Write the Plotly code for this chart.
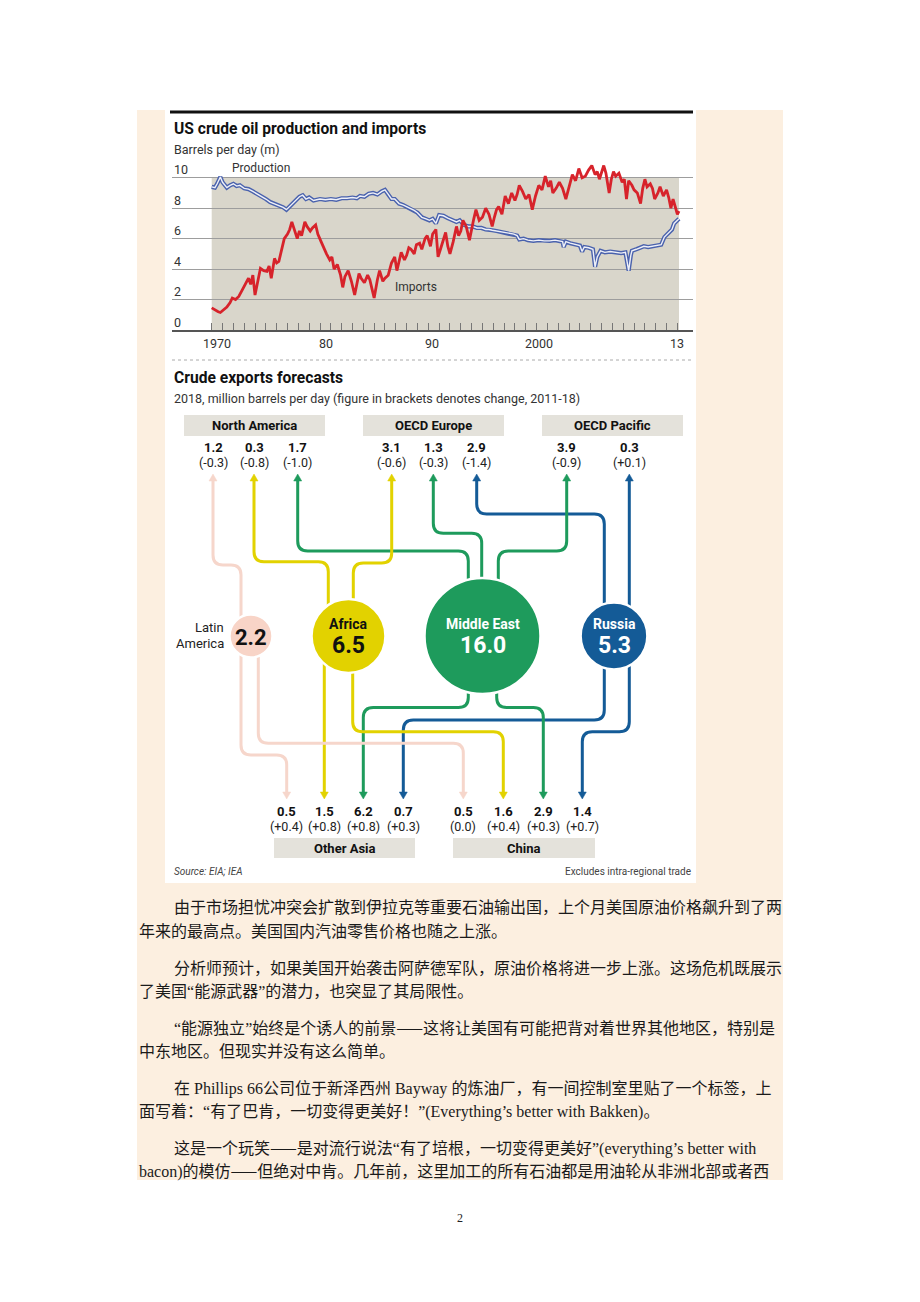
import math
import plotly.graph_objects as go

# page is rendered with an 8px body margin: figure is sized/offset so reference pixels line up
OFF = 8
W, H = 904, 1286

# ---------------- data: US crude oil production and imports (m b/d) ----------------
prod_years = [1970.0, 1970.3, 1970.5, 1970.8, 1971.0, 1971.2, 1971.4, 1971.7, 1972.0, 1972.3, 1972.6,
              1973.0, 1973.4, 1973.8, 1974.2, 1974.6, 1975.0, 1975.4, 1975.8, 1976.2, 1976.6, 1976.9,
              1977.2, 1977.5, 1977.8, 1978.1, 1978.4, 1978.7, 1979.0, 1979.4, 1979.7, 1980.0, 1980.5,
              1981.0, 1981.5, 1982.0, 1982.5, 1983.0, 1983.4, 1983.7, 1984.1, 1984.5, 1984.9, 1985.3,
              1985.7, 1986.0, 1986.3, 1986.6, 1986.9, 1987.3, 1987.7, 1988.0, 1988.3, 1988.7, 1989.0,
              1989.4, 1989.8, 1990.1, 1990.4, 1990.7, 1991.0, 1991.4, 1991.8, 1992.2, 1992.6, 1992.9,
              1993.3, 1993.7, 1994.1, 1994.5, 1994.9, 1995.3, 1995.6, 1995.9, 1996.3, 1996.7, 1997.1,
              1997.5, 1997.9, 1998.2, 1998.4, 1998.8, 1999.2, 1999.7, 2000.2, 2000.7, 2001.2, 2001.7,
              2002.1, 2002.4, 2002.5, 2002.7, 2003.1, 2003.6, 2004.0, 2004.2, 2004.4, 2004.8, 2005.2,
              2005.4, 2005.6, 2005.9, 2006.3, 2006.8, 2007.3, 2007.8, 2008.2, 2008.5, 2008.7, 2008.8,
              2009.2, 2009.6, 2009.9, 2010.3, 2010.8, 2011.2, 2011.5, 2011.8, 2012.2, 2012.5, 2012.7,
              2013.0, 2013.15]
prod_values = [9.4, 9.35, 9.6, 10.05, 9.7, 9.5, 9.35, 9.5, 9.6, 9.45, 9.5,
               9.3, 9.25, 9.1, 8.95, 8.8, 8.6, 8.4, 8.3, 8.15, 8.05, 7.9,
               8.1, 8.35, 8.5, 8.75, 8.85, 8.6, 8.7, 8.5, 8.55, 8.6, 8.55,
               8.6, 8.55, 8.65, 8.65, 8.7, 8.65, 8.8, 8.75, 8.95, 9.0, 8.9,
               9.1, 9.2, 8.9, 8.6, 8.6, 8.3, 8.2, 8.1, 8.0, 7.85, 7.7,
               7.4, 7.3, 7.2, 7.3, 7.0, 7.55, 7.5, 7.35, 7.2, 7.1, 7.2,
               6.9, 6.8, 6.8, 6.7, 6.7, 6.6, 6.6, 6.55, 6.5, 6.45, 6.4,
               6.35, 6.3, 6.2, 5.95, 6.0, 5.9, 5.85, 5.9, 5.85, 5.85, 5.9,
               5.85, 5.8, 5.45, 5.8, 5.7, 5.6, 5.55, 5.15, 5.45, 5.4, 5.3,
               4.15, 4.8, 5.2, 5.1, 5.15, 5.1, 5.05, 5.1, 3.9, 4.9, 5.2,
               5.3, 5.4, 5.5, 5.45, 5.5, 5.55, 5.6, 6.1, 6.4, 6.6, 7.0,
               7.2, 7.3]

imp_years = [1970.0, 1970.3, 1970.6, 1970.8, 1971.1, 1971.4, 1971.7, 1971.9, 1972.2, 1972.5, 1972.8,
             1973.1, 1973.4, 1973.6, 1973.8, 1974.0, 1974.3, 1974.5, 1974.8, 1975.1, 1975.3, 1975.5,
             1975.8, 1976.0, 1976.2, 1976.5, 1976.7, 1977.0, 1977.2, 1977.4, 1977.6, 1977.9, 1978.1,
             1978.3, 1978.6, 1978.8, 1979.1, 1979.3, 1979.6, 1979.8, 1980.1, 1980.4, 1980.6, 1980.9,
             1981.1, 1981.3, 1981.6, 1981.9, 1982.1, 1982.3, 1982.6, 1982.9, 1983.2, 1983.4, 1983.6,
             1983.8, 1984.1, 1984.4, 1984.6, 1984.8, 1985.0, 1985.3, 1985.5, 1985.8, 1986.0, 1986.3,
             1986.6, 1986.9, 1987.1, 1987.3, 1987.5, 1987.8, 1988.0, 1988.2, 1988.4, 1988.7, 1988.9,
             1989.2, 1989.4, 1989.7, 1989.9, 1990.2, 1990.4, 1990.7, 1990.9, 1991.1, 1991.4, 1991.6,
             1991.8, 1992.0, 1992.3, 1992.6, 1992.8, 1993.0, 1993.2, 1993.5, 1993.8, 1994.0, 1994.2,
             1994.4, 1994.7, 1995.0, 1995.3, 1995.6, 1995.9, 1996.1, 1996.3, 1996.5, 1996.8, 1997.1,
             1997.4, 1997.7, 1998.0, 1998.2, 1998.4, 1998.7, 1999.0, 1999.3, 1999.6, 1999.9, 2000.2,
             2000.5, 2000.8, 2001.1, 2001.3, 2001.5, 2001.8, 2002.1, 2002.4, 2002.7, 2003.0, 2003.3,
             2003.6, 2003.9, 2004.2, 2004.5, 2004.8, 2005.1, 2005.4, 2005.6, 2005.8, 2006.0, 2006.2,
             2006.4, 2006.7, 2006.9, 2007.1, 2007.3, 2007.6, 2007.9, 2008.1, 2008.3, 2008.5, 2008.8,
             2009.0, 2009.3, 2009.6, 2009.8, 2010.0, 2010.2, 2010.5, 2010.7, 2010.9, 2011.2, 2011.4,
             2011.7, 2012.0, 2012.2, 2012.4, 2012.6, 2012.8, 2013.0, 2013.15]
imp_values = [1.45, 1.3, 1.2, 1.15, 1.3, 1.5, 1.8, 2.1, 2.0, 2.2, 2.6,
              3.0, 3.4, 3.0, 3.6, 2.3, 3.5, 4.05, 3.9, 3.85, 4.2, 3.4,
              4.7, 4.4, 4.5, 5.5, 6.0, 6.3, 6.6, 7.1, 6.7, 6.0, 6.5,
              6.2, 7.1, 6.8, 6.5, 6.7, 6.9, 6.3, 5.8, 5.3, 5.0, 4.6,
              4.8, 4.0, 4.3, 3.6, 2.8, 3.5, 3.9, 3.2, 2.3, 3.0, 3.7,
              3.4, 3.1, 3.6, 3.3, 2.7, 2.1, 3.3, 3.9, 3.2, 3.4, 3.6,
              4.4, 4.8, 3.9, 4.5, 5.1, 4.6, 4.9, 5.4, 5.3, 5.0, 5.6,
              5.7, 5.3, 6.0, 6.2, 5.5, 6.3, 6.6, 4.8, 5.25, 5.9, 6.4,
              5.5, 5.0, 5.8, 6.8, 6.2, 6.5, 7.2, 6.8, 5.9, 6.7, 7.3,
              7.9, 7.2, 7.4, 8.0, 7.6, 6.8, 7.4, 7.9, 8.1, 7.6, 8.8,
              8.3, 9.0, 8.5, 8.9, 9.5, 9.1, 8.6, 8.9, 7.9, 8.8, 9.5,
              9.2, 10.1, 9.4, 9.8, 9.0, 9.3, 9.7, 9.3, 8.6, 9.4, 10.2,
              9.8, 10.6, 10.0, 10.1, 10.5, 10.8, 10.2, 10.4, 9.9, 10.4, 10.8,
              10.3, 9.0, 9.9, 10.4, 10.1, 10.3, 9.7, 9.9, 8.6, 9.8, 9.5,
              9.2, 9.0, 8.3, 9.3, 9.9, 9.4, 9.6, 9.3, 8.6, 9.0, 9.4,
              8.8, 9.2, 8.7, 8.0, 8.6, 8.0, 7.6, 7.8]

tick_years = list(range(1970, 2014))
label_years = [1970, 1980, 1990, 2000, 2013]
label_texts = ["1970", "80", "90", "2000", "13"]
label_shift = [5, 6, 4, 2, 0]
y_tick_values = [0, 2, 4, 6, 8, 10]

# ---------------- data: crude exports forecasts, 2018 (m b/d) ----------------
exporters = ["Latin America", "Africa", "Middle East", "Russia"]
export_totals = [2.2, 6.5, 16.0, 5.3]
top_regions = ["North America", "OECD Europe", "OECD Pacific"]
bottom_regions = ["Other Asia", "China"]
top_flow_source = ["Latin America", "Africa", "Middle East", "Africa", "Middle East", "Russia",
                   "Middle East", "Russia"]
top_flow_value = [1.2, 0.3, 1.7, 3.1, 1.3, 2.9, 3.9, 0.3]
top_flow_change = ["(-0.3)", "(-0.8)", "(-1.0)", "(-0.6)", "(-0.3)", "(-1.4)", "(-0.9)", "(+0.1)"]
bottom_flow_source = ["Latin America", "Africa", "Middle East", "Russia",
                      "Latin America", "Africa", "Middle East", "Russia"]
bottom_flow_value = [0.5, 1.5, 6.2, 0.7, 0.5, 1.6, 2.9, 1.4]
bottom_flow_change = ["(+0.4)", "(+0.8)", "(+0.8)", "(+0.3)", "(0.0)", "(+0.4)", "(+0.3)", "(+0.7)"]

# ---------------- article text ----------------
para_lines = [
    ("由于市场担忧冲突会扩散到伊拉克等重要石油输出国，上个月美国原油价格飙升到了两", True),
    ("年来的最高点。美国国内汽油零售价格也随之上涨。", False),
    ("分析师预计，如果美国开始袭击阿萨德军队，原油价格将进一步上涨。这场危机既展示", True),
    ("了美国“能源武器”的潜力，也突显了其局限性。", False),
    ("“能源独立”始终是个诱人的前景——这将让美国有可能把背对着世界其他地区，特别是", True),
    ("中东地区。但现实并没有这么简单。", False),
    ("在 Phillips 66公司位于新泽西州 Bayway 的炼油厂，有一间控制室里贴了一个标签，上", True),
    ("面写着：“有了巴肯，一切变得更美好！”(Everything’s better with Bakken)。", False),
    ("这是一个玩笑——是对流行说法“有了培根，一切变得更美好”(everything’s better with", True),
    ("bacon)的模仿——但绝对中肯。几年前，这里加工的所有石油都是用油轮从非洲北部或者西", False),
]

# ---------------- styles / layout constants ----------------
FONT = "Roboto, Arial, sans-serif"
CJK = "Noto Sans CJK SC, sans-serif"
SERIF = "Liberation Serif, serif"
BEIGE = "#fcefe0"
FILL_GREY = "#d9d6cb"
BOX_GREY = "#e4e2db"
node_color = {"Latin America": "#f8d4c7", "Africa": "#e2d200", "Middle East": "#1e9b5c", "Russia": "#145b97"}
line_color = {"Latin America": "#f6d6cb", "Africa": "#e2d200", "Middle East": "#1e9b5c", "Russia": "#145b97"}
node_text_color = {"Latin America": "#111111", "Africa": "#111111", "Middle East": "#ffffff", "Russia": "#ffffff"}
node_cx = {"Latin America": 251, "Africa": 348.5, "Middle East": 482.5, "Russia": 614}
NODE_CY = 636
R_PER_SQRT = 14.5

top_box_x = [(184, 325), (363, 504), (542, 683)]
bottom_box_x = [(274, 415), (453, 595)]
top_slot_x = [213, 254, 297.7, 391.7, 433.3, 476.7, 566.7, 629.3]
top_exit_x = [241, 328.3, 468.3, 353.3, 481.7, 604.3, 498.3, 629.3]
top_turn_y = [565, 561.7, 551, 563, 533.3, 514, 551, None]
bottom_slot_x = [286.7, 324.3, 363.3, 403.3, 463.3, 503.3, 543.3, 582.3]
bottom_exit_x = [241, 324.3, 468.3, 604.3, 258.3, 352.7, 496.7, 629.3]
bottom_turn_y = [755, None, 707.5, 720, 743.3, 731.7, 707.5, 731.7]
TOP_TIP, BOTTOM_TIP = 474, 799

# top chart geometry (page pixels)
PX0, PX1 = 172, 693
X1970, PX_PER_YEAR = 211.7, 10.83
Y0PX, PX_PER_UNIT, YMAX = 330, 15.23, 11.2


def pxp(xp):
    return (xp - OFF) / W


def pyp(yp):
    return 1 - (yp - OFF) / H


def rpath(pts, r=10):
    d = "M %.1f,%.1f" % pts[0]
    for i in range(1, len(pts) - 1):
        (x0, y0), (x1, y1), (x2, y2) = pts[i - 1], pts[i], pts[i + 1]
        l1 = math.hypot(x1 - x0, y1 - y0)
        l2 = math.hypot(x2 - x1, y2 - y1)
        rr = min(r, l1 / 2, l2 / 2)
        ax, ay = x1 - (x1 - x0) / l1 * rr, y1 - (y1 - y0) / l1 * rr
        bx, by = x1 + (x2 - x1) / l2 * rr, y1 + (y2 - y1) / l2 * rr
        d += " L %.1f,%.1f Q %.1f,%.1f %.1f,%.1f" % (ax, ay, x1, y1, bx, by)
    d += " L %.1f,%.1f" % pts[-1]
    return d


def mixed(s):
    """Latin runs and curly quotes in a serif face, CJK in Noto Sans CJK."""
    out, buf, cur = [], "", None
    for ch in s:
        lat = ord(ch) < 128 or ch in "“”‘’"
        if cur is not None and lat != cur:
            out.append((buf, cur))
            buf = ""
        buf += ch
        cur = lat
    if buf:
        out.append((buf, cur))
    html = ""
    for run, lat in out:
        if lat:
            html += '<span style="font-family:%s">%s</span>' % (SERIF.replace(",", " ,").split(" ,")[0], run)
        else:
            html += run
    return html


fig = go.Figure()
shapes = []
ann = []

# ---- backgrounds (paper, below everything)
shapes.append(dict(type="rect", xref="paper", yref="paper", layer="below",
                   x0=pxp(137), x1=pxp(783), y0=pyp(1180), y1=pyp(110),
                   fillcolor=BEIGE, line=dict(width=0)))
shapes.append(dict(type="rect", xref="paper", yref="paper", layer="below",
                   x0=pxp(165), x1=pxp(696), y0=pyp(883), y1=pyp(110),
                   fillcolor="white", line=dict(width=0)))

# ---- top chart traces
fig.add_trace(go.Scatter(x=prod_years, y=prod_values, mode="lines", xaxis="x", yaxis="y",
                         line=dict(color="#4a62ad", width=4.2), hoverinfo="skip", showlegend=False))
fig.add_trace(go.Scatter(x=prod_years, y=prod_values, mode="lines", xaxis="x", yaxis="y",
                         line=dict(color="#eef0f8", width=1.4), hoverinfo="skip", showlegend=False))
fig.add_trace(go.Scatter(x=imp_years, y=imp_values, mode="lines", xaxis="x", yaxis="y",
                         line=dict(color="#d7232b", width=2.8), hoverinfo="skip", showlegend=False))

shapes.append(dict(type="rect", xref="x", yref="y", layer="below", x0=1970, x1=2013.15, y0=0, y1=10,
                   fillcolor=FILL_GREY, line=dict(width=0)))

for v in y_tick_values:
    ann.append(dict(xref="paper", yref="y", x=pxp(PX0), y=v, text=str(v), showarrow=False,
                    xanchor="left", yanchor="middle", yshift=8,
                    font=dict(family=FONT, size=12.5, color="#333333")))
for yr, t, s in zip(label_years, label_texts, label_shift):
    ann.append(dict(xref="x", yref="y", x=yr, y=0, text=t, showarrow=False,
                    xanchor="center", yanchor="middle", yshift=-13, xshift=s,
                    font=dict(family=FONT, size=12.5, color="#333333")))
ann.append(dict(xref="x", yref="y", x=1974.55, y=10.62, text="Production", showarrow=False,
                xanchor="center", yanchor="middle", font=dict(family=FONT, size=12, color="#333333")))
ann.append(dict(xref="x", yref="y", x=1986.76, y=2.82, text="Imports", showarrow=False,
                xanchor="left", yanchor="middle", font=dict(family=FONT, size=12, color="#333333")))

# ---- exporter circles (x2/y2 = page-pixel space)
sizes = [2 * R_PER_SQRT * math.sqrt(v) for v in export_totals]
fig.add_trace(go.Scatter(x=[node_cx[e] for e in exporters], y=[NODE_CY] * len(exporters),
                         mode="markers", xaxis="x2", yaxis="y2",
                         marker=dict(size=sizes, color=[node_color[e] for e in exporters],
                                     line=dict(color="white", width=2.5), opacity=1),
                         hoverinfo="skip", showlegend=False))

# ---- flow lines
for src, sx, ex, ty in zip(top_flow_source, top_slot_x, top_exit_x, top_turn_y):
    pts = [(ex, NODE_CY)] + ([(ex, ty), (sx, ty)] if ty is not None else []) + [(sx, TOP_TIP + 5)]
    shapes.append(dict(type="path", xref="x2", yref="y2", layer="below", path=rpath(pts),
                       line=dict(color=line_color[src], width=3)))
    shapes.append(dict(type="path", xref="x2", yref="y2", layer="below",
                       path="M %.1f,%.1f L %.1f,%.1f L %.1f,%.1f Z" % (sx - 4, TOP_TIP + 7, sx, TOP_TIP, sx + 4, TOP_TIP + 7),
                       fillcolor=line_color[src], line=dict(color=line_color[src], width=0.5)))
for src, sx, ex, ty in zip(bottom_flow_source, bottom_slot_x, bottom_exit_x, bottom_turn_y):
    pts = [(ex, NODE_CY)] + ([(ex, ty), (sx, ty)] if ty is not None else []) + [(sx, BOTTOM_TIP - 5)]
    shapes.append(dict(type="path", xref="x2", yref="y2", layer="below", path=rpath(pts),
                       line=dict(color=line_color[src], width=3)))
    shapes.append(dict(type="path", xref="x2", yref="y2", layer="below",
                       path="M %.1f,%.1f L %.1f,%.1f L %.1f,%.1f Z" % (sx - 4, BOTTOM_TIP - 7, sx, BOTTOM_TIP, sx + 4, BOTTOM_TIP - 7),
                       fillcolor=line_color[src], line=dict(color=line_color[src], width=0.5)))

# ---- region boxes
for name, (bx0, bx1) in zip(top_regions, top_box_x):
    shapes.append(dict(type="rect", xref="x2", yref="y2", layer="below", x0=bx0, x1=bx1, y0=415, y1=436,
                       fillcolor=BOX_GREY, line=dict(width=0)))
    ann.append(dict(xref="x2", yref="y2", x=(bx0 + bx1) / 2, y=425.5, text="<b>%s</b>" % name, showarrow=False,
                    xanchor="center", yanchor="middle", font=dict(family=FONT, size=13, color="#111111")))
for name, (bx0, bx1) in zip(bottom_regions, bottom_box_x):
    shapes.append(dict(type="rect", xref="x2", yref="y2", layer="below", x0=bx0, x1=bx1, y0=838, y1=858,
                       fillcolor=BOX_GREY, line=dict(width=0)))
    ann.append(dict(xref="x2", yref="y2", x=(bx0 + bx1) / 2, y=848, text="<b>%s</b>" % name, showarrow=False,
                    xanchor="center", yanchor="middle", font=dict(family=FONT, size=13, color="#111111")))

# ---- flow value labels
for sx, v, c in zip(top_slot_x, top_flow_value, top_flow_change):
    ann.append(dict(xref="x2", yref="y2", x=sx, y=447.3, text="<b>%.1f</b>" % v, showarrow=False,
                    xanchor="center", yanchor="middle", font=dict(family=FONT, size=13, color="#111111")))
    ann.append(dict(xref="x2", yref="y2", x=sx, y=462, text=c, showarrow=False,
                    xanchor="center", yanchor="middle", font=dict(family=FONT, size=12.5, color="#222222")))
for sx, v, c in zip(bottom_slot_x, bottom_flow_value, bottom_flow_change):
    ann.append(dict(xref="x2", yref="y2", x=sx, y=811.7, text="<b>%.1f</b>" % v, showarrow=False,
                    xanchor="center", yanchor="middle", font=dict(family=FONT, size=13, color="#111111")))
    ann.append(dict(xref="x2", yref="y2", x=sx, y=826.7, text=c, showarrow=False,
                    xanchor="center", yanchor="middle", font=dict(family=FONT, size=12.5, color="#222222")))

# ---- node labels
for e, v in zip(exporters, export_totals):
    col = node_text_color[e]
    if e == "Latin America":
        ann.append(dict(xref="x2", yref="y2", x=node_cx[e], y=637, text="<b>%.1f</b>" % v, showarrow=False,
                        xanchor="center", yanchor="middle", font=dict(family=FONT, size=22, color=col)))
        ann.append(dict(xref="x2", yref="y2", x=226, y=627, text="Latin", showarrow=False,
                        xanchor="right", yanchor="middle", font=dict(family=FONT, size=13, color="#222222")))
        ann.append(dict(xref="x2", yref="y2", x=226, y=643, text="America", showarrow=False,
                        xanchor="right", yanchor="middle", font=dict(family=FONT, size=13, color="#222222")))
    else:
        ann.append(dict(xref="x2", yref="y2", x=node_cx[e], y=623.5, text="<b>%s</b>" % e, showarrow=False,
                        xanchor="center", yanchor="middle", font=dict(family=FONT, size=14, color=col)))
        ann.append(dict(xref="x2", yref="y2", x=node_cx[e], y=645.5, text="<b>%.1f</b>" % v, showarrow=False,
                        xanchor="center", yanchor="middle", font=dict(family=FONT, size=23, color=col)))

# ---- titles, rules, notes
shapes.append(dict(type="line", xref="x2", yref="y2", layer="below", x0=170, x1=693, y0=112, y1=112,
                   line=dict(color="#111111", width=3)))
shapes.append(dict(type="line", xref="x2", yref="y2", layer="below", x0=172, x1=693, y0=360, y1=360,
                   line=dict(color="#aaaaaa", width=1, dash="dot")))


def text_px(x, y, t, size, family=FONT, color="#111111", xanchor="left"):
    ann.append(dict(xref="x2", yref="y2", x=x, y=y, text=t, showarrow=False, xanchor=xanchor,
                    yanchor="middle", font=dict(family=family, size=size, color=color)))


text_px(172, 128.5, "<b>US crude oil production and imports</b>", 15.6)
text_px(172, 149, "Barrels per day (m)", 12.5, FONT, "#333333")
text_px(172, 377.5, "<b>Crude exports forecasts</b>", 15.6)
text_px(172, 398.5, "2018, million barrels per day (figure in brackets denotes change, 2011-18)", 12.5, FONT, "#333333")
text_px(172, 871, "<i>Source: EIA; IEA</i>", 10, FONT, "#444444")
text_px(693, 871, "Excludes intra-regional trade", 10, FONT, "#444444", xanchor="right")

para_y = [906, 930, 967, 990, 1027, 1050, 1087, 1110, 1147, 1170]
for (line, indent), yy in zip(para_lines, para_y):
    text_px(172 if indent else 137, yy, mixed(line), 16, CJK, "#1a1a1a")
text_px(460, 1218, "2", 12, SERIF, "#222222", xanchor="center")

fig.update_layout(
    width=W, height=H, margin=dict(l=0, r=0, t=0, b=0),
    paper_bgcolor="white", plot_bgcolor="rgba(0,0,0,0)",
    showlegend=False,
    xaxis=dict(domain=[pxp(PX0), pxp(PX1)], anchor="y",
               range=[1970 - (X1970 - PX0) / PX_PER_YEAR, 1970 + (PX1 - X1970) / PX_PER_YEAR],
               showgrid=False, zeroline=False, tickmode="array", tickvals=tick_years,
               ticks="inside", ticklen=7, tickcolor="#777777", tickwidth=1, showticklabels=False,
               showline=True, linecolor="#555555", linewidth=1.5, fixedrange=True),
    yaxis=dict(domain=[pyp(Y0PX), pyp(Y0PX - YMAX * PX_PER_UNIT)], anchor="x",
               range=[0, YMAX], tickmode="array", tickvals=[2, 4, 6, 8, 10], showgrid=True,
               gridcolor="#9d9d9d", gridwidth=1, zeroline=False, showticklabels=False,
               ticks="", showline=False, fixedrange=True),
    xaxis2=dict(domain=[0, 1], anchor="y2", range=[OFF, OFF + W], visible=False, fixedrange=True),
    yaxis2=dict(domain=[0, 1], anchor="x2", range=[OFF + H, OFF], visible=False, fixedrange=True),
    shapes=shapes, annotations=ann,
)

fig.write_html("out.html")
